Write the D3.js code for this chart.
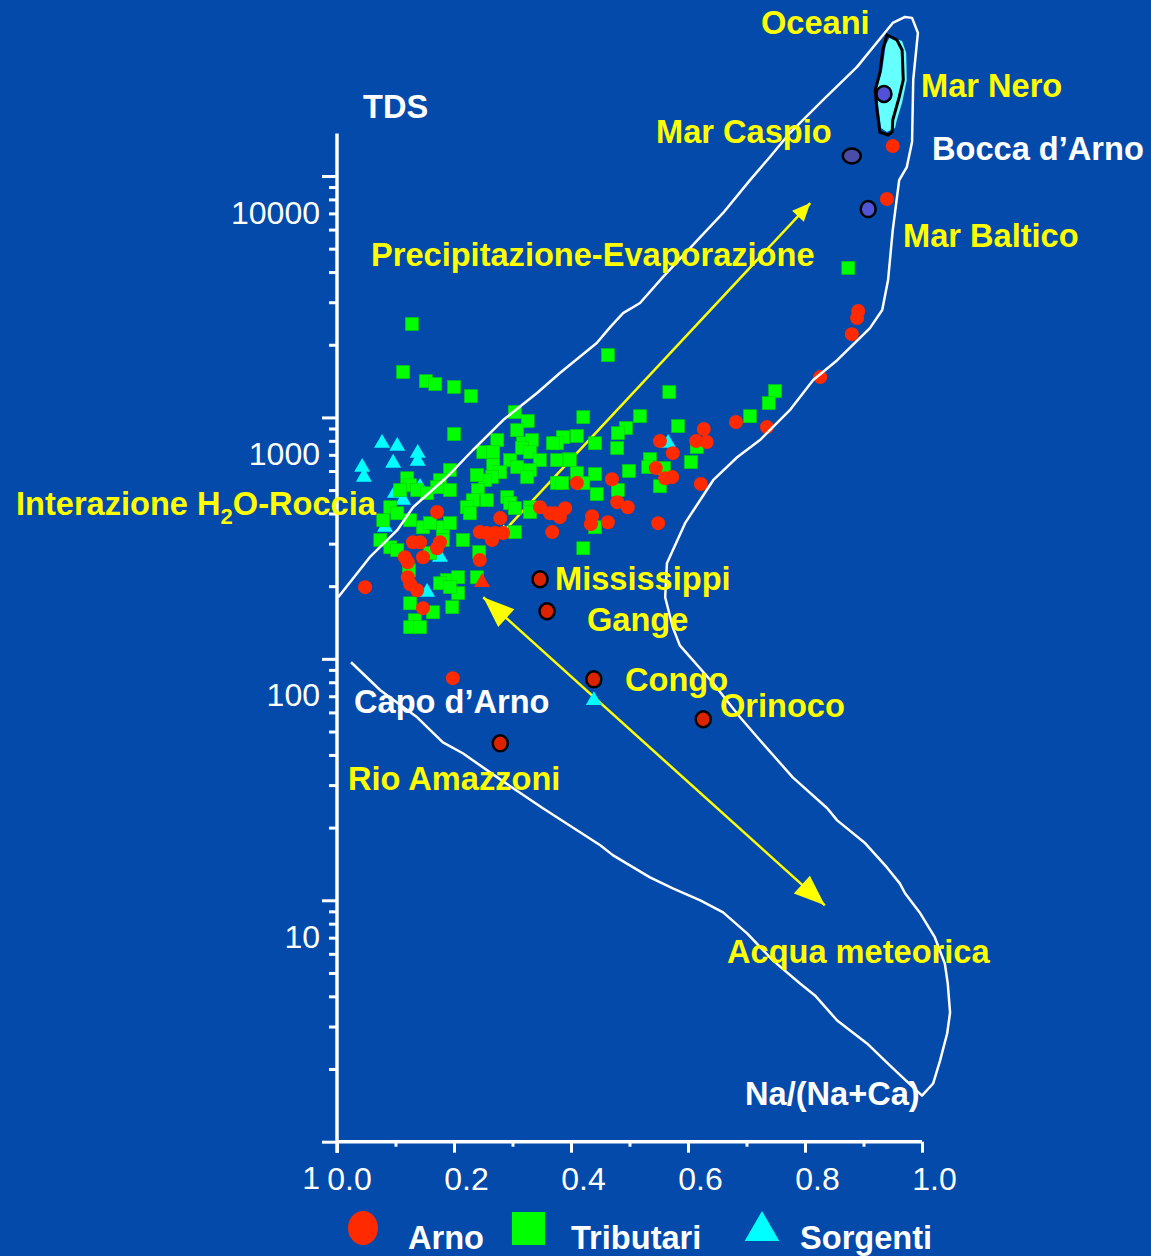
<!DOCTYPE html>
<meta charset="utf-8">
<style>
  body { margin: 0; background: #034aaa; }
  svg text { font-family: "Liberation Sans", Arial, Helvetica, sans-serif; }
</style>
<body>
<script src="https://cdn.jsdelivr.net/npm/d3@7"></script>
<script>
// Gibbs diagram: Na/(Na+Ca) vs log10(TDS)

var arno = [
  [0.950,4.124],[0.940,3.905],[0.891,3.441],[0.889,3.412],[0.880,3.345],[0.826,3.167],
  [0.735,2.960],[0.682,2.981],[0.627,2.952],[0.632,2.898],[0.614,2.902],[0.552,2.902],
  [0.574,2.852],[0.545,2.790],[0.561,2.748],[0.573,2.753],[0.622,2.724],[0.470,2.744],
  [0.479,2.649],[0.497,2.628],[0.410,2.728],[0.390,2.624],[0.381,2.587],[0.373,2.603],
  [0.436,2.591],[0.434,2.558],[0.463,2.566],[0.368,2.525],[0.549,2.562],[0.347,2.628],
  [0.364,2.603],[0.279,2.583],[0.244,2.525],[0.256,2.521],[0.270,2.521],[0.265,2.492],
  [0.284,2.521],[0.171,2.608],[0.176,2.483],[0.130,2.483],[0.142,2.483],[0.171,2.458],
  [0.116,2.421],[0.147,2.421],[0.121,2.400],[0.244,2.409],[0.121,2.338],[0.125,2.309],
  [0.137,2.284],[0.147,2.210],[0.048,2.297],[0.198,1.920]
];

var tributari = [
  [0.128,3.387],[0.113,3.188],[0.152,3.150],[0.168,3.138],[0.200,3.126],[0.229,3.088],
  [0.463,3.258],[0.304,3.022],[0.326,2.985],[0.421,3.001],[0.518,3.005],[0.874,3.619],
  [0.568,3.105],[0.749,3.109],[0.738,3.059],[0.706,3.005],[0.583,2.964],[0.494,2.956],
  [0.480,2.935],[0.410,2.923],[0.386,2.918],[0.376,2.893],[0.441,2.893],[0.479,2.873],
  [0.615,2.877],[0.376,2.823],[0.397,2.827],[0.535,2.827],[0.532,2.794],[0.499,2.778],
  [0.605,2.815],[0.559,2.790],[0.410,2.769],[0.441,2.765],[0.376,2.728],[0.385,2.728],
  [0.421,2.728],[0.552,2.715],[0.480,2.699],[0.444,2.682],[0.441,2.545],[0.421,2.458],
  [0.200,2.931],[0.274,2.906],[0.308,2.947],[0.318,2.893],[0.333,2.906],[0.250,2.856],
  [0.267,2.856],[0.296,2.823],[0.316,2.873],[0.330,2.856],[0.347,2.823],[0.308,2.794],
  [0.330,2.782],[0.325,2.753],[0.267,2.802],[0.279,2.773],[0.265,2.753],[0.253,2.740],
  [0.239,2.761],[0.193,2.782],[0.176,2.740],[0.171,2.711],[0.193,2.699],[0.241,2.699],
  [0.232,2.657],[0.222,2.628],[0.227,2.603],[0.256,2.657],[0.369,2.893],[0.398,2.823],
  [0.291,2.670],[0.296,2.645],[0.304,2.624],[0.330,2.628],[0.330,2.608],[0.304,2.525],
  [0.120,2.748],[0.125,2.719],[0.108,2.699],[0.137,2.699],[0.154,2.686],[0.091,2.628],
  [0.103,2.603],[0.125,2.574],[0.147,2.545],[0.159,2.562],[0.079,2.574],[0.074,2.492],
  [0.091,2.462],[0.103,2.450],[0.159,2.438],[0.181,2.492],[0.181,2.545],[0.193,2.562],
  [0.215,2.492],[0.243,2.442],[0.123,2.367],[0.188,2.326],[0.207,2.338],[0.176,2.313],
  [0.239,2.338],[0.207,2.272],[0.193,2.297],[0.125,2.230],[0.164,2.193],[0.197,2.214],
  [0.133,2.160],[0.125,2.131],[0.142,2.131]
];

var sorgenti = [
  [0.077,2.893],[0.103,2.881],[0.138,2.852],[0.138,2.819],[0.096,2.811],[0.043,2.794],
  [0.046,2.753],[0.142,2.711],[0.099,2.686],[0.113,2.657],[0.082,2.545],[0.176,2.421],
  [0.154,2.276],[0.566,2.893],[0.439,1.828]
];
var sorgentiArno = [[0.248,2.317]];

var riverNames = ["Mississippi", "Gange", "Congo", "Orinoco", "Rio Amazzoni"];
var riverPoints = [[0.347,2.330],[0.359,2.197],[0.439,1.915],[0.626,1.750],[0.279,1.650]];

var seaNames = ["Mar Nero", "Mar Caspio", "Mar Baltico"];
var seaPoints = [[0.935,4.340],[0.880,4.083],[0.908,3.863]];

var envelope = [
  [0.024,1.986],[0.074,1.870],[0.137,1.758],[0.181,1.654],[0.215,1.609],[0.274,1.509],
  [0.352,1.381],[0.450,1.228],[0.472,1.186],[0.535,1.095],[0.574,1.049],[0.621,1.000],
  [0.660,0.950],[0.701,0.863],[0.745,0.751],[0.791,0.656],[0.817,0.606],[0.855,0.502],
  [0.906,0.407],[0.945,0.316],[1.000,0.191],[1.019,0.241],[1.031,0.337],[1.043,0.448],
  [1.048,0.535],[1.044,0.656],[1.039,0.738],[1.022,0.846],[0.997,0.946],[0.971,1.029],
  [0.962,1.070],[0.940,1.136],[0.903,1.236],[0.855,1.331],[0.838,1.381],[0.779,1.509],
  [0.723,1.663],[0.689,1.758],[0.643,1.899],[0.586,2.056],[0.574,2.131],[0.561,2.255],
  [0.564,2.396],[0.595,2.562],[0.643,2.740],[0.684,2.835],[0.723,2.906],[0.774,3.030],
  [0.814,3.155],[0.855,3.237],[0.911,3.370],[0.932,3.445],[0.942,3.569],[0.950,3.776],
  [0.961,3.983],[0.974,4.037],[0.983,4.141],[0.985,4.398],[0.993,4.593],[0.983,4.655],
  [0.971,4.659],[0.950,4.634],[0.889,4.452],[0.831,4.315],[0.774,4.178],[0.740,4.079],
  [0.706,3.983],[0.660,3.847],[0.621,3.747],[0.557,3.581],[0.518,3.474],[0.489,3.432],
  [0.467,3.374],[0.444,3.308],[0.381,3.184],[0.342,3.101],[0.284,2.989],[0.232,2.864],
  [0.188,2.753],[0.130,2.628],[0.103,2.533],[0.056,2.421],[0.002,2.255]
];

var oceaniFill = [
  [0.945,4.576],[0.966,4.559],[0.973,4.510],[0.974,4.398],[0.966,4.303],[0.957,4.232],
  [0.954,4.199],[0.940,4.182],[0.930,4.199],[0.925,4.294],[0.923,4.365],[0.932,4.439],
  [0.938,4.543]
];
var oceaniOutline = [
  [0.940,4.584],[0.957,4.564],[0.966,4.522],[0.968,4.398],[0.961,4.327],[0.950,4.232],
  [0.949,4.182],[0.942,4.170],[0.928,4.182],[0.923,4.274],[0.920,4.356],[0.928,4.427],
  [0.933,4.522]
];

// arrows: start, end (ratio, log10 TDS)
var arrowStarts = [[0.279,2.512],[0.250,2.255]];
var arrowEnds = [[0.809,3.888],[0.834,0.979]];

var xTicks = [0, 0.2, 0.4, 0.6, 0.8, 1.0];
var xMinor = [0.1, 0.3, 0.5, 0.7, 0.9];
var yTicks = [1, 10, 100, 1000, 10000];

var W = 1151, H = 1256;
var svg = d3.select("body").append("svg")
    .attr("width", W).attr("height", H);

svg.append("rect").attr("width", W).attr("height", H).attr("fill", "#034aaa");

var x = d3.scaleLinear().domain([0, 1]).range([337, 922]);
var y = d3.scaleLog().domain([1, 10000]).range([1141.7, 176]);
var px = function(d) { return x(d[0]); };
var py = function(d) { return y(Math.pow(10, d[1])); };

var yMinor = [];
[1, 10, 100, 1000].forEach(function(dec) {
  d3.range(2, 10).forEach(function(k) { yMinor.push(dec * k); });
});

// axes
var gy = svg.append("g").attr("transform", "translate(" + x(0) + ",0)");
gy.append("g").call(d3.axisLeft(y).tickValues(yMinor).tickSize(8).tickFormat(""));
gy.append("g").attr("class", "ymaj")
  .call(d3.axisLeft(y).tickValues(yTicks).tickSize(15).tickPadding(2).tickFormat(d3.format("d")));
gy.selectAll(".domain").remove();
gy.selectAll(".ymaj text").attr("dy", null).attr("y", 47);

var gx = svg.append("g").attr("transform", "translate(0," + y(1) + ")");
gx.append("g").call(d3.axisBottom(x).tickValues(xMinor).tickSize(5).tickFormat(""));
gx.append("g").attr("class", "xmaj")
  .call(d3.axisBottom(x).tickValues(xTicks).tickSize(11).tickFormat(d3.format(".1f")));
gx.selectAll(".domain").remove();
gx.selectAll(".xmaj text").attr("dy", null).attr("y", 48).attr("x", 12);

svg.selectAll(".tick line").attr("stroke", "#fff").attr("stroke-width", 3);
svg.selectAll(".tick text").attr("fill", "#fff").style("font-size", "32px");

svg.append("line")
  .attr("x1", x(0)).attr("x2", x(0))
  .attr("y1", y(15000)).attr("y2", y(1) + 11)
  .attr("stroke", "#fff").attr("stroke-width", 3.5);
svg.append("line")
  .attr("x1", x(0)).attr("x2", x(1))
  .attr("y1", y(1)).attr("y2", y(1))
  .attr("stroke", "#fff").attr("stroke-width", 3.5);

// yellow arrows (under the points)
function head(tip, from, len, half) {
  var dx = tip[0] - from[0], dy = tip[1] - from[1];
  var n = Math.sqrt(dx * dx + dy * dy);
  var ux = dx / n, uy = dy / n;
  var bx = tip[0] - ux * len, by = tip[1] - uy * len;
  return [tip, [bx - uy * half, by + ux * half], [bx + uy * half, by - ux * half]];
}
var headSizes = [[[10, 5], [18, 8]], [[31, 12], [31, 12]]];
arrowStarts.forEach(function(s, i) {
  var a = [px(s), py(s)], b = [px(arrowEnds[i]), py(arrowEnds[i])];
  svg.append("line")
    .attr("x1", a[0]).attr("y1", a[1]).attr("x2", b[0]).attr("y2", b[1])
    .attr("stroke", "#ffff00").attr("stroke-width", 2.5);
  var hs = headSizes[i];
  [head(a, b, hs[0][0], hs[0][1]), head(b, a, hs[1][0], hs[1][1])].forEach(function(p) {
    svg.append("polygon").attr("points", p.join(" ")).attr("fill", "#ffff00");
  });
});

// points
var tri = d3.symbol().type(d3.symbolTriangle).size(110);
svg.selectAll("path.sorg")
  .data(sorgenti).enter().append("path")
  .attr("class", "sorg")
  .attr("d", tri)
  .attr("transform", function(d) { return "translate(" + px(d) + "," + py(d) + ")"; })
  .attr("fill", "#00ffff");

svg.selectAll("rect.trib")
  .data(tributari).enter().append("rect")
  .attr("class", "trib")
  .attr("x", function(d) { return px(d) - 6.5; })
  .attr("y", function(d) { return py(d) - 6.5; })
  .attr("width", 13).attr("height", 13)
  .attr("fill", "#00ff00")
  .attr("stroke", "#00d000").attr("stroke-width", 0.6);

svg.selectAll("circle.arno")
  .data(arno).enter().append("circle")
  .attr("class", "arno")
  .attr("cx", px).attr("cy", py).attr("r", 7)
  .attr("fill", "#ff2a00");

svg.selectAll("path.sorgA")
  .data(sorgentiArno).enter().append("path")
  .attr("d", tri)
  .attr("transform", function(d) { return "translate(" + px(d) + "," + py(d) + ")"; })
  .attr("fill", "#ff2a00");

svg.selectAll("ellipse.river")
  .data(riverPoints).enter().append("ellipse")
  .attr("cx", px).attr("cy", py)
  .attr("rx", 7.5).attr("ry", 8)
  .attr("fill", "#dd2200").attr("stroke", "#000").attr("stroke-width", 2.5);

// Oceani / Mar Nero blob
var poly = d3.line().x(px).y(py).curve(d3.curveLinearClosed);
svg.append("path").attr("d", poly(oceaniFill)).attr("fill", "#66ffff");
svg.append("path").attr("d", poly(oceaniOutline))
  .attr("fill", "none").attr("stroke", "#000").attr("stroke-width", 3);

var seaFill = ["#5050d8", "#4a4ca8", "#5055d8"];
svg.selectAll("ellipse.sea")
  .data(seaPoints).enter().append("ellipse")
  .attr("cx", px).attr("cy", py)
  .attr("rx", function(d, i) { return i == 1 ? 9 : 7.5; })
  .attr("ry", function(d, i) { return i == 1 ? 7.5 : 8; })
  .attr("fill", function(d, i) { return seaFill[i]; })
  .attr("stroke", "#000").attr("stroke-width", 2.5);

// Gibbs envelope
svg.append("path")
  .attr("d", d3.line().x(px).y(py)(envelope))
  .attr("fill", "none").attr("stroke", "#fff").attr("stroke-width", 2.5)
  .attr("stroke-linejoin", "round");

// labels
var labels = [
  ["Oceani", 761, 34, "#ffff00"],
  ["Mar Nero", 921, 97, "#ffff00"],
  ["Mar Caspio", 656, 143, "#ffff00"],
  ["Bocca d\u2019Arno", 932, 160, "#ffffff"],
  ["Mar Baltico", 903, 247, "#ffff00"],
  ["Precipitazione-Evaporazione", 371, 266, "#ffff00"],
  ["TDS", 363, 118, "#ffffff"],
  ["Mississippi", 555, 590, "#ffff00"],
  ["Gange", 587, 631, "#ffff00"],
  ["Congo", 625, 691, "#ffff00"],
  ["Orinoco", 720, 717, "#ffff00"],
  ["Capo d\u2019Arno", 354, 713, "#ffffff"],
  ["Rio Amazzoni", 348, 790, "#ffff00"],
  ["Acqua meteorica", 727, 963, "#ffff00"],
  ["Na/(Na+Ca)", 745, 1105, "#ffffff"]
];
svg.selectAll("text.lab")
  .data(labels).enter().append("text")
  .attr("class", "lab")
  .attr("x", function(d) { return d[1]; })
  .attr("y", function(d) { return d[2]; })
  .attr("fill", function(d) { return d[3]; })
  .style("font-size", "32.6px").style("font-weight", "bold")
  .text(function(d) { return d[0]; });

var inter = svg.append("text")
  .attr("x", 16).attr("y", 515)
  .attr("fill", "#ffff00")
  .style("font-size", "32.6px").style("font-weight", "bold");
inter.append("tspan").text("Interazione H");
inter.append("tspan").attr("dy", 9).style("font-size", "22px").text("2");
inter.append("tspan").attr("dy", -9).text("O-Roccia");

// legend
var lg = svg.append("g");
lg.append("ellipse").attr("cx", 363).attr("cy", 1228).attr("rx", 15).attr("ry", 17).attr("fill", "#ff2a00");
lg.append("rect").attr("x", 512).attr("y", 1212).attr("width", 33).attr("height", 33).attr("fill", "#00ff00");
lg.append("path").attr("d", d3.symbol().type(d3.symbolTriangle).size(520))
  .attr("transform", "translate(762,1231)").attr("fill", "#00ffff");
[["Arno", 408], ["Tributari", 571], ["Sorgenti", 800]].forEach(function(t) {
  lg.append("text").attr("x", t[1]).attr("y", 1249)
    .attr("fill", "#fff").style("font-size", "32.6px").style("font-weight", "bold")
    .text(t[0]);
});
</script>
</body>
